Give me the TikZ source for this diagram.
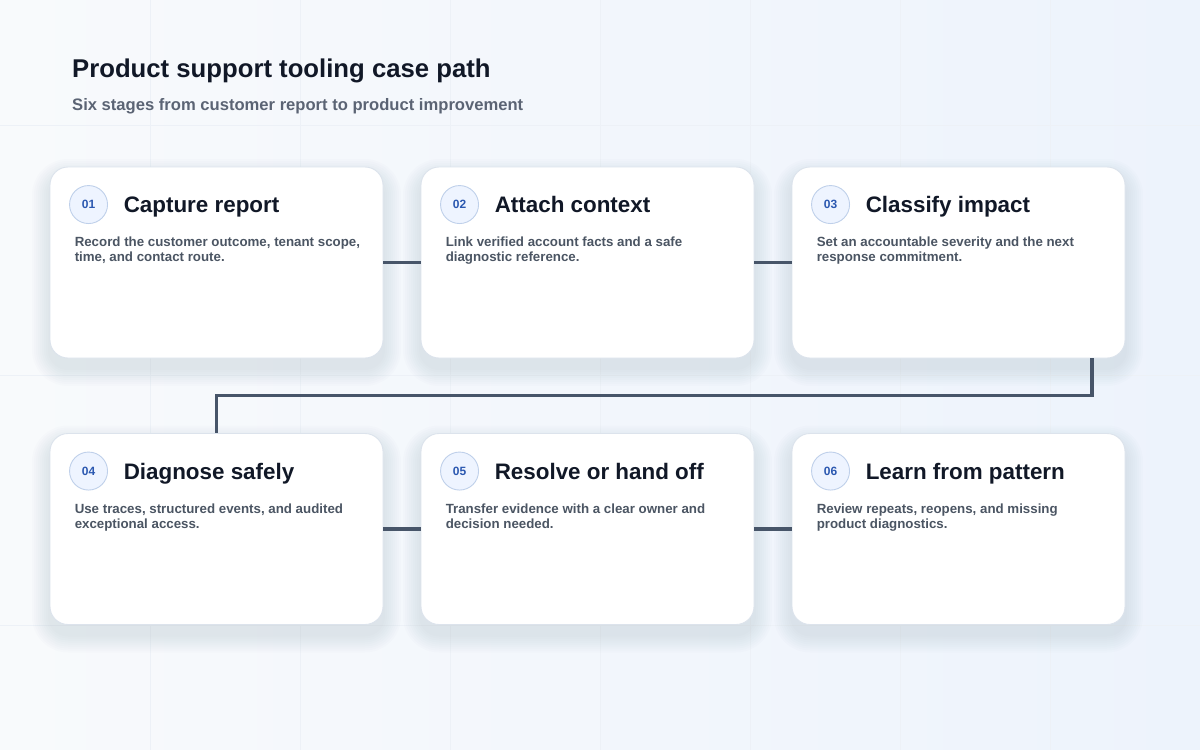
\documentclass[tikz,border=0pt]{standalone}
\usepackage{fontspec}
\setmainfont{Liberation Sans}
\usetikzlibrary{positioning}
\definecolor{inkdark}{HTML}{111827}
\definecolor{inkgray}{HTML}{4B5563}
\definecolor{subgray}{HTML}{5B6474}
\definecolor{linkslate}{HTML}{475569}
\definecolor{cardline}{HTML}{DCE3EC}
\definecolor{badgefill}{HTML}{EEF4FF}
\definecolor{badgeline}{HTML}{BFD0EA}
\definecolor{badgeink}{HTML}{2B58B0}
\definecolor{bgtop}{HTML}{F8FAFC}
\definecolor{bgbot}{HTML}{EDF3FC}
\definecolor{gridline}{HTML}{EDF1F7}
\definecolor{shadowtone}{HTML}{3A4A66}
\tikzset{
	card/.style={draw=cardline,line width=0.9pt,fill=white,rounded corners=18pt,
		minimum width=333pt,minimum height=191pt,inner sep=0pt},
	cardshadow/.style={fill=shadowtone,opacity=0.011},
	badge/.style={circle,draw=badgeline,line width=0.9pt,fill=badgefill,minimum size=38pt,inner sep=0pt,
		text=badgeink,font=\fontsize{12}{14}\selectfont\bfseries},
	cardtitle/.style={anchor=base west,inner sep=0pt,text=inkdark,font=\fontsize{22.4}{26}\selectfont\bfseries},
	carddesc/.style={anchor=north west,inner sep=0pt,align=left,text=inkgray,font=\fontsize{13.3}{15}\selectfont\bfseries},
	link/.style={draw=linkslate,line width=3.3pt}
}
\begin{document}
\begin{tikzpicture}[x=1pt,y=-1pt]
	\useasboundingbox (0,0) rectangle (1200,750);
	\shade[shading angle=135,left color=bgtop,right color=bgbot] (0,0) rectangle (1200,750);
	\foreach \gx in {150,300,...,1050}
		\draw[gridline,line width=0.8pt] (\gx,0) -- (\gx,750);
	\foreach \gy in {125,375,625}
		\draw[gridline,line width=0.8pt] (0,\gy) -- (1200,\gy);
	
	\node[anchor=base west,inner sep=0pt,text=inkdark,font=\fontsize{25.7}{30}\selectfont\bfseries] (heading) at (72,77) {Product support tooling case path};
	\node[anchor=base west,inner sep=0pt,text=subgray,font=\fontsize{16.6}{20}\selectfont\bfseries] (subheading) at (72,110) {Six stages from customer report to product improvement};
	
	\foreach \n/\cx/\cy/\num/\ttl/\desc in {
		1/216.5/262.5/01/{Capture report}/{Record the customer outcome, tenant scope,\\time, and contact route.},
		2/587.5/262.5/02/{Attach context}/{Link verified account facts and a safe\\diagnostic reference.},
		3/958.5/262.5/03/{Classify impact}/{Set an accountable severity and the next\\response commitment.},
		4/216.5/529/04/{Diagnose safely}/{Use traces, structured events, and audited\\exceptional access.},
		5/587.5/529/05/{Resolve or hand off}/{Transfer evidence with a clear owner and\\decision needed.},
		6/958.5/529/06/{Learn from pattern}/{Review repeats, reopens, and missing\\product diagnostics.}}
	{
		\foreach \s in {2,4,...,18}
			\fill[cardshadow,rounded corners=18pt+\s pt] (\cx-166.5-\s,\cy-95.5-\s+10) rectangle (\cx+166.5+\s,\cy+95.5+\s+10);
		\node[card] (c\n) at (\cx,\cy) {};
		\node[badge] (b\n) at ([xshift=39pt,yshift=-38pt]c\n.north west) {\num};
		\node[cardtitle] (t\n) at ([xshift=74pt,yshift=-46pt]c\n.north west) {\ttl};
		\node[carddesc] (d\n) at ([xshift=25pt,yshift=-70.5pt]c\n.north west) {\desc};
	}
	
	\draw[link] (c1.east) -- (c2.west);
	\draw[link] (c2.east) -- (c3.west);
	\draw[link] ([xshift=133.5pt]c3.south) -- ++(0,37) -| (c4.north);
	\draw[link] (c4.east) -- (c5.west);
	\draw[link] (c5.east) -- (c6.west);
\end{tikzpicture}
\end{document}
